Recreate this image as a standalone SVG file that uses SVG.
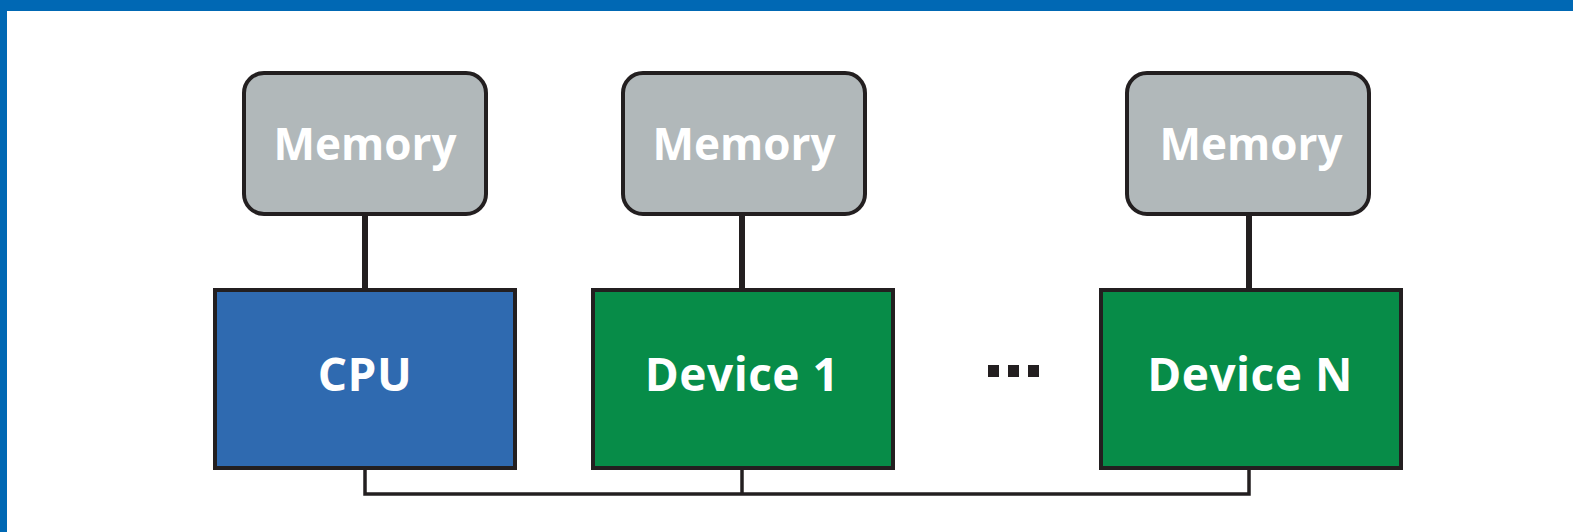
<svg xmlns="http://www.w3.org/2000/svg" width="1573" height="532" viewBox="0 0 1573 532">
<style>
.mem{fill:#b1b8ba;stroke:#231f20;stroke-width:4}
.cpu{fill:#2f6ab0;stroke:#231f20;stroke-width:4}
.dev{fill:#078c48;stroke:#231f20;stroke-width:4}
.lbl{font-family:"Open Sans","Noto Sans",sans-serif;font-weight:bold;font-size:44px;fill:#ffffff;text-anchor:middle}
.big{font-size:46px;letter-spacing:0.5px}
.link{stroke:#231f20;stroke-width:6;fill:none}
.bus{stroke:#231f20;stroke-width:3.5;fill:none}
</style>
<rect x="0" y="0" width="1573" height="532" fill="#ffffff"/>
<rect x="0" y="0" width="1573" height="11" fill="#0068b4"/>
<rect x="0" y="0" width="7" height="532" fill="#0068b4"/>
<g id="connectors">
<line class="link" x1="365" y1="214" x2="365" y2="289"/>
<line class="link" x1="742" y1="214" x2="742" y2="289"/>
<line class="link" x1="1249" y1="214" x2="1249" y2="289"/>
<polyline class="bus" points="365,467 365,494 1249,494 1249,467"/>
<line class="bus" x1="742" y1="467" x2="742" y2="494"/>
</g>
<g id="mem1"><rect class="mem" x="244" y="73" width="242" height="141" rx="20"/><text class="lbl" x="365" y="160">Memory</text></g>
<g id="mem2"><rect class="mem" x="623" y="73" width="242" height="141" rx="20"/><text class="lbl" x="744" y="160">Memory</text></g>
<g id="mem3"><rect class="mem" x="1127" y="73" width="242" height="141" rx="20"/><text class="lbl" x="1251" y="160">Memory</text></g>
<g id="cpu"><rect class="cpu" x="215" y="290" width="300" height="178"/><text class="lbl big" x="365" y="391">CPU</text></g>
<g id="dev1"><rect class="dev" x="593" y="290" width="300" height="178"/><text class="lbl big" x="742" y="391">Device 1</text></g>
<g id="devN"><rect class="dev" x="1101" y="290" width="300" height="178"/><text class="lbl big" x="1250" y="391">Device N</text></g>
<g id="ellipsis" fill="#231f20">
<rect x="988" y="365" width="11" height="12"/>
<rect x="1008" y="365" width="11" height="12"/>
<rect x="1028" y="365" width="11" height="12"/>
</g>
</svg>
